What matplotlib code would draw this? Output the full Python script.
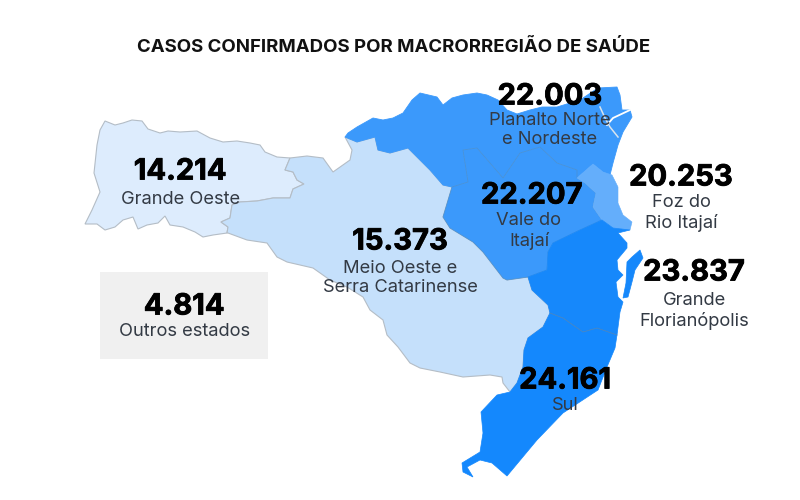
import matplotlib
matplotlib.use('Agg')
import matplotlib.pyplot as plt
import matplotlib.patheffects as pe
from matplotlib.patches import Polygon, Rectangle

plt.rcParams['font.family'] = ['Inter', 'DejaVu Sans']

title = 'CASOS CONFIRMADOS POR MACRORREGIÃO DE SAÚDE'
values = ['14.214', '15.373', '22.003', '22.207', '20.253', '23.837', '24.161', '4.814']
names = ['Grande Oeste', 'Meio Oeste e\nSerra Catarinense', 'Planalto Norte\ne Nordeste', 'Vale do\nItajaí',
         'Foz do\nRio Itajaí', 'Grande\nFlorianópolis', 'Sul', 'Outros estados']

# outlines, in pixels
grande_oeste = [(105,121),(115,125),(123,123),(132,120),(142,121),(148,129),(160,133),(168,131),(180,132),
                (197,131),(210,138),(223,142),(237,141),(250,143),(260,145),(265,152),(277,157),(290,158),
                (285,170),(293,172),(297,180),(304,184),(293,189),(290,198),(273,198),(257,201),(240,202),
                (232,205),(230,218),(221,222),(228,227),(227,233),(213,235),(203,237),(195,232),(183,227),
                (170,225),(165,216),(158,223),(147,225),(138,229),(133,217),(123,220),(115,227),(105,230),
                (97,224),(85,224),(92,210),(100,192),(94,173),(97,145),(100,130)]
meio_oeste = [(290,158),(307,156),(323,158),(333,172),(350,160),(352,150),(345,137),(357,142),(375,137),
              (378,150),(390,153),(408,148),(420,160),(430,170),(443,185),(452,187),(443,217),(450,228),
              (473,242),(483,252),(503,278),(507,280),(528,277),(532,290),(548,305),(550,313),(543,327),
              (528,338),(524,350),(523,367),(517,383),(510,392),(503,383),(502,377),(490,375),(463,377),
              (440,372),(420,368),(410,363),(398,347),(387,335),(383,320),(370,310),(363,297),(347,287),
              (330,280),(313,268),(287,262),(277,257),(267,243),(247,240),(228,233),(227,233),(228,227),
              (221,222),(230,218),(232,205),(240,202),(257,201),(273,198),(290,198),(293,189),(304,184),
              (297,180),(293,172),(285,170)]
planalto = [(345,137),(348,133),(357,127),(373,118),(383,120),(393,118),(403,113),(412,100),(420,93),
            (437,97),(443,105),(452,98),(463,95),(477,93),(487,95),(498,100),(507,110),(517,114),(530,110),
            (542,107),(557,107),(580,100),(598,88),(617,87),(620,95),(622,110),(630,110),(632,117),(623,132),
            (618,145),(613,163),(610,175),(603,172),(593,164),(577,178),(577,170),(557,163),(540,147),
            (520,153),(503,178),(477,148),(463,150),(468,182),(452,187),(443,185),(430,170),(420,160),
            (408,148),(390,153),(378,150),(375,137),(357,142)]
vale = [(452,187),(468,182),(463,150),(477,148),(503,178),(520,153),(540,147),(557,163),(577,170),(577,178),
        (585,183),(596,193),(593,207),(602,220),(580,230),(553,243),(548,252),(547,270),(528,277),(507,280),
        (503,278),(483,252),(473,242),(450,228),(443,217)]
foz = [(593,164),(603,172),(612,175),(618,187),(618,203),(623,215),(632,222),(630,230),(613,228),(602,220),
       (593,207),(596,193),(585,183),(577,178)]
grande_floripa = [(528,277),(547,270),(548,252),(553,243),(580,230),(602,220),(613,228),(630,230),(618,233),
                  (627,243),(627,248),(617,260),(618,270),(623,275),(616,282),(618,297),(623,302),(620,312),
                  (617,335),(597,328),(583,332),(563,318),(550,313),(548,305),(532,290)]
ilha = [(640,250),(643,258),(635,270),(632,282),(628,297),(623,298),(626,283),(627,262),(632,257)]
sul = [(550,313),(563,318),(583,332),(597,328),(617,335),(615,348),(607,367),(598,390),(563,413),(537,440),
       (507,476),(492,463),(480,460),(467,467),(473,477),(463,472),(462,463),(480,452),(483,433),(481,412),
       (497,395),(510,392),(517,383),(523,367),(524,350),(528,338),(543,327)]
baia_a = [(600,107),(605,118),(610,127),(618,137)]
baia_b = [(630,110),(613,118),(607,125)]

fig = plt.figure(figsize=(8, 5), dpi=100)
ax = fig.add_axes([0, 0, 1, 1])
ax.set_xlim(0, 800)
ax.set_ylim(500, 0)
ax.axis('off')

ax.add_patch(Rectangle((100, 272), 168, 87, color='#f0f0f0', lw=0))

ax.add_patch(Polygon(grande_oeste, fc='#ddecfd', ec='#b4bdc6', lw=0.8))
ax.add_patch(Polygon(meio_oeste, fc='#c5e0fb', ec='#b4bdc6', lw=0.8))
ax.add_patch(Polygon(planalto, fc='#3b99fb', ec='#3b99fb', lw=0.6))
ax.add_patch(Polygon(vale, fc='#3b99fb', ec='#4a90d0', lw=0.5))
ax.add_patch(Polygon(foz, fc='#64aefb', ec='#64aefb', lw=0.4))
ax.add_patch(Polygon(grande_floripa, fc='#1688fb', ec='#1688fb', lw=0.5))
ax.add_patch(Polygon(ilha, fc='#1688fb', ec='#1688fb', lw=0.5))
ax.add_patch(Polygon(sul, fc='#1488fd', ec='#1488fd', lw=0.5))
ax.plot(*zip(*[(550,313),(563,318),(583,332),(597,328),(617,335)]), color='#4a86c0', lw=0.6)
ax.plot(*zip(*baia_a), color='#d8e4ee', lw=1.1)
ax.plot(*zip(*baia_b), color='white', lw=1.3)

ax.text(394, 47, title, ha='center', va='center', fontsize=13.4, fontweight='bold', color='#111111')

num_pos = [(180,172),(400,242),(550,97),(532,196),(681,178),(694,273),(565,381),(184,307)]
name_pos = [(181,199),(400,278),(550,130),(529,231),(681,213),(694,311),(565,406),(185,331)]
for v, n, p, q in zip(values, names, num_pos, name_pos):
    ax.text(p[0], p[1], v, ha='center', va='center', fontsize=21, fontweight='bold', color='black',
            path_effects=[pe.withStroke(linewidth=0.6, foreground='black')])
    ax.text(q[0], q[1], n, ha='center', va='center', fontsize=13.2, color='#333a44', linespacing=1.18)

fig.savefig('out.png', dpi=100)
